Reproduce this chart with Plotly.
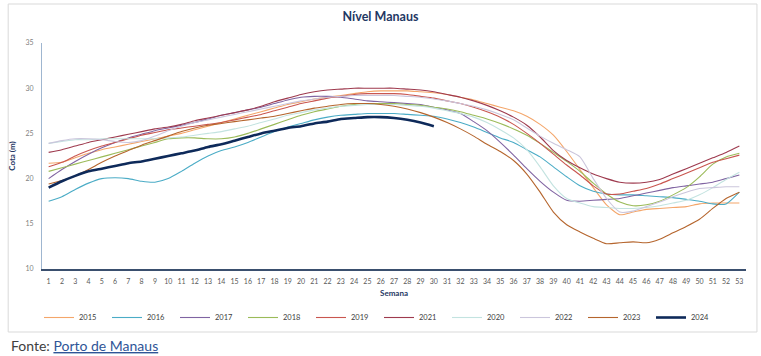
import plotly.graph_objects as go

weeks = list(range(1, 54))
week_ticks = [str(w) for w in weeks]
y_ticks = [10, 15, 20, 25, 30, 35]

s2015 = [21.7, 21.8, 22.3, 22.8, 23.2, 23.5, 23.8, 24.1, 24.4, 24.7, 25.0, 25.4, 25.8, 26.2, 26.6, 27.0,
         27.4, 27.8, 28.2, 28.5, 28.8, 29.0, 29.2, 29.4, 29.6, 29.7, 29.7, 29.7, 29.6, 29.5, 29.3, 29.0,
         28.7, 28.3, 27.9, 27.5, 26.9, 26.0, 24.8, 23.0, 21.0, 19.0, 17.1, 16.0, 16.3, 16.6, 16.7, 16.8,
         16.9, 17.2, 17.3, 17.3, 17.3]
s2016 = [17.5, 18.0, 18.8, 19.5, 20.0, 20.1, 20.0, 19.7, 19.6, 20.0, 20.8, 21.7, 22.5, 23.1, 23.5, 24.0,
         24.6, 25.2, 25.7, 26.1, 26.5, 26.8, 27.0, 27.1, 27.2, 27.2, 27.2, 27.1, 27.0, 26.9, 26.6, 26.2,
         25.7, 25.1, 24.5, 24.0, 23.2, 22.4, 21.3, 20.2, 19.2, 18.6, 18.3, 18.2, 18.2, 18.1, 18.0, 17.9,
         17.7, 17.5, 17.2, 17.2, 18.5]
s2017 = [20.0, 21.0, 21.9, 22.7, 23.4, 24.0, 24.5, 24.9, 25.3, 25.6, 25.9, 26.2, 26.6, 27.0, 27.3, 27.6,
         27.9, 28.3, 28.7, 29.0, 29.1, 29.1, 29.0, 28.8, 28.6, 28.5, 28.4, 28.3, 28.2, 27.9, 27.6, 27.2,
         26.3, 25.3, 24.0, 22.6, 21.1, 19.7, 18.5, 17.6, 17.5, 17.6, 17.7, 17.8, 18.1, 18.4, 18.7, 19.0,
         19.2, 19.4, 19.6, 20.0, 20.4]
s2018 = [20.8, 21.2, 21.6, 22.0, 22.4, 22.8, 23.2, 23.6, 24.0, 24.4, 24.5, 24.5, 24.4, 24.4, 24.6, 25.0,
         25.5, 26.0, 26.5, 27.0, 27.4, 27.7, 28.0, 28.2, 28.3, 28.3, 28.3, 28.2, 28.1, 27.9, 27.7, 27.4,
         27.0, 26.6, 26.1, 25.5, 24.8, 23.9, 22.9, 21.9, 20.8, 19.5, 18.3, 17.4, 17.0, 17.1, 17.5, 18.2,
         19.0, 20.2, 21.6, 22.4, 22.8]
s2019 = [21.3, 21.8, 22.5, 23.1, 23.6, 24.0, 24.4, 24.8, 25.1, 25.4, 25.6, 25.8, 26.0, 26.2, 26.5, 26.8,
         27.1, 27.5, 27.9, 28.3, 28.6, 28.9, 29.1, 29.3, 29.4, 29.4, 29.4, 29.3, 29.1, 28.9, 28.6, 28.3,
         27.9, 27.4, 26.8, 26.0, 25.0, 23.9, 22.7, 21.5, 20.4, 19.2, 18.3, 18.3, 18.6, 18.9, 19.4, 20.0,
         20.6, 21.2, 21.8, 22.2, 22.6]
s2021 = [22.9, 23.2, 23.6, 24.0, 24.3, 24.6, 24.9, 25.2, 25.5, 25.7, 26.0, 26.4, 26.7, 27.0, 27.3, 27.6,
         28.0, 28.5, 28.9, 29.3, 29.6, 29.8, 29.9, 30.0, 30.0, 30.0, 30.0, 29.9, 29.8, 29.6, 29.3, 29.0,
         28.6, 28.1, 27.5, 26.8, 25.9, 24.6, 23.1, 22.0, 21.2, 20.5, 20.0, 19.6, 19.5, 19.6, 19.9, 20.5,
         21.1, 21.7, 22.3, 22.9, 23.6]
s2020 = [23.9, 24.1, 24.3, 24.3, 24.4, 24.4, 24.4, 24.4, 24.4, 24.5, 24.6, 24.8, 25.0, 25.2, 25.5, 25.8,
         26.2, 26.6, 27.0, 27.3, 27.6, 27.8, 28.0, 28.1, 28.2, 28.2, 28.2, 28.1, 28.0, 27.8, 27.5, 27.2,
         26.8, 26.2, 25.4, 24.5, 23.2, 21.3, 19.2, 17.8, 17.3, 16.9, 16.8, 16.7, 16.7, 16.8, 17.0, 17.3,
         17.6, 18.2, 19.0, 19.9, 20.7]
s2022 = [23.9, 24.2, 24.4, 24.4, 24.3, 24.1, 24.0, 24.2, 24.7, 25.3, 25.8, 26.2, 26.5, 26.8, 27.1, 27.4,
         27.7, 28.0, 28.3, 28.6, 28.8, 29.0, 29.1, 29.2, 29.2, 29.2, 29.2, 29.1, 29.0, 28.8, 28.6, 28.3,
         28.0, 27.6, 27.1, 26.5, 25.6, 24.7, 23.9, 23.2, 22.4, 20.0, 17.8, 16.3, 16.4, 16.9, 17.4, 18.0,
         18.5, 18.9, 19.0, 19.1, 19.1]
s2023 = [19.4, 19.8, 20.3, 21.0, 21.8, 22.5, 23.1, 23.7, 24.2, 24.7, 25.2, 25.6, 25.9, 26.1, 26.3, 26.5,
         26.7, 26.9, 27.2, 27.5, 27.8, 28.0, 28.2, 28.3, 28.3, 28.2, 28.0, 27.7, 27.3, 26.8, 26.2, 25.5,
         24.7, 23.8, 23.0, 22.0, 20.5, 18.5, 16.3, 14.9, 14.1, 13.4, 12.8, 12.9, 13.0, 12.9, 13.3, 14.0,
         14.7, 15.5, 16.7, 17.8, 18.5]
s2024 = [19.0, 19.7, 20.3, 20.8, 21.1, 21.4, 21.7, 21.9, 22.2, 22.5, 22.8, 23.1, 23.5, 23.8, 24.2, 24.6,
         25.0, 25.3, 25.6, 25.8, 26.1, 26.3, 26.6, 26.7, 26.8, 26.8, 26.7, 26.5, 26.2, 25.8]

series = [
    ("2015", s2015, "#F4A66A", 1.1),
    ("2016", s2016, "#4BACC6", 1.1),
    ("2017", s2017, "#8064A2", 1.1),
    ("2018", s2018, "#9BBB59", 1.1),
    ("2019", s2019, "#C9564F", 1.1),
    ("2021", s2021, "#9E3A4E", 1.1),
    ("2020", s2020, "#C3E3E0", 1.1),
    ("2022", s2022, "#CBC6DC", 1.1),
    ("2023", s2023, "#B5652D", 1.1),
    ("2024", s2024, "#0E2A5A", 2.6),
]

fig = go.Figure()
for name, vals, color, width in series:
    fig.add_trace(go.Scatter(
        x=weeks[:len(vals)], y=vals, name=name, mode="lines",
        line=dict(color=color, width=width, shape="spline", smoothing=0.6),
        hoverinfo="x+y+name",
    ))

# plot area: x 38..746, y 43..269 (px)
L, R, T, B = 38, 746, 43, 269
W, H = R - L, B - T

def px_x(p):
    return (p - L) / W

def px_y(p):
    return (B - p) / H

fig.add_shape(type="rect", xref="paper", yref="paper",
              x0=px_x(4), x1=px_x(757), y0=px_y(332), y1=px_y(4),
              line=dict(color="#D9D9D9", width=1), fillcolor="rgba(0,0,0,0)", layer="below")

fig.add_annotation(
    text="Fonte: <span style='color:#2F5597;text-decoration:underline'>Porto de Manaus</span>",
    xref="paper", yref="paper", x=px_x(5), y=px_y(345), xanchor="left", yanchor="middle",
    showarrow=False, font=dict(family="Lato, Open Sans, sans-serif", size=14, color="#404040"),
)

fig.update_layout(
    width=761, height=356,
    margin=dict(l=L, r=761 - R, t=T, b=356 - B),
    paper_bgcolor="white", plot_bgcolor="white",
    font=dict(family="Lato, Open Sans, sans-serif", color="#595959"),
    title=dict(text="<b>Nível Manaus</b>", x=0.5, xanchor="center", y=1 - 17 / 356, yanchor="middle",
               font=dict(size=12.5, color="#1F3864")),
    showlegend=True,
    legend=dict(orientation="h", x=px_x(35), y=px_y(303), xanchor="left", yanchor="top",
                entrywidth=23, entrywidthmode="pixels", font=dict(size=7.5, color="#404040"),
                bgcolor="rgba(0,0,0,0)", itemwidth=30, tracegroupgap=0),
    xaxis=dict(
        range=[0.5, 53.5], tickmode="array", tickvals=weeks, ticktext=week_ticks,
        showgrid=False, zeroline=False, showline=True, linecolor="#3A4F6E", linewidth=1.5,
        ticks="", tickfont=dict(size=7, color="#595959"), tickangle=0, ticklabelstandoff=5,
        title=dict(text="<b>Semana</b>", font=dict(size=8, color="#1F3864"), standoff=6),
    ),
    yaxis=dict(
        range=[10, 35], tickmode="array", tickvals=y_ticks,
        showgrid=False, zeroline=False, showline=True, linecolor="#9FB6D0", linewidth=1,
        ticks="", tickfont=dict(size=7, color="#7F7F7F"), ticklabelstandoff=6,
        title=dict(text="<b>Cota (m)</b>", font=dict(size=8, color="#1F3864"), standoff=8),
    ),
)

fig.write_html(
    "out.html",
    config={"displayModeBar": False},
    post_script="document.body.style.margin='0';document.body.style.overflow='hidden';",
)
